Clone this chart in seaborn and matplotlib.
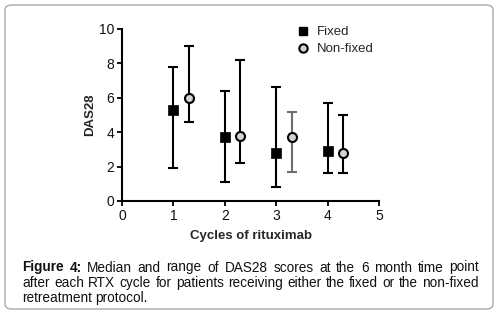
import numpy as np
import pandas as pd
import matplotlib
matplotlib.use("Agg")
import matplotlib.pyplot as plt
import seaborn as sns
from matplotlib.patches import FancyBboxPatch
from matplotlib.lines import Line2D

# ---- data ----
cycles = [1, 2, 3, 4]
fixed_median = [5.3, 3.7, 2.8, 2.9]
fixed_low = [1.9, 1.1, 0.8, 1.6]
fixed_high = [7.8, 6.4, 6.6, 5.7]
nonfixed_median = [6.0, 3.8, 3.7, 2.8]
nonfixed_low = [4.6, 2.2, 1.7, 1.6]
nonfixed_high = [9.0, 8.2, 5.2, 5.0]
groups = ["Fixed", "Non-fixed"]
xticks = [0, 1, 2, 3, 4, 5]
yticks = [0, 2, 4, 6, 8, 10]
caption_lines = [
    ["Figure", "4:", "Median", "and", "range", "of", "DAS28", "scores", "at", "the", "6", "month", "time", "point"],
    ["after", "each", "RTX", "cycle", "for", "patients", "receiving", "either", "the", "fixed", "or", "the", "non-fixed"],
    ["retreatment", "protocol."],
]

sns.set_style("ticks")
plt.rcParams['font.family'] = ['Liberation Sans', 'DejaVu Sans']

W, H = 498, 313
fig = plt.figure(figsize=(W / 100, H / 100), dpi=100)

# outer rounded frame
frame = FancyBboxPatch((5 / W, 4 / H), 488 / W, 304 / H,
                       boxstyle="round,pad=0,rounding_size=0.015",
                       transform=fig.transFigure, facecolor="none",
                       edgecolor="#a8a8a8", lw=1.0, zorder=-1)
fig.patches.append(frame)

ax = fig.add_axes([122 / W, (H - 201) / H, 257 / W, 172 / H])
ax.set_facecolor("none")

offset = 0.3
df_f = pd.DataFrame({"cycle": cycles, "DAS28": fixed_median, "group": groups[0]})
df_n = pd.DataFrame({"cycle": [c + offset for c in cycles], "DAS28": nonfixed_median, "group": groups[1]})

# ranges
ax.errorbar(df_f["cycle"], df_f["DAS28"],
            yerr=[np.array(fixed_median) - np.array(fixed_low), np.array(fixed_high) - np.array(fixed_median)],
            fmt="none", ecolor="black", elinewidth=1.5, capsize=3.8, capthick=1.5, zorder=2)
ecols = ["black", "black", "#6e6e6e", "black"]
for i in range(len(cycles)):
    ax.errorbar([df_n["cycle"][i]], [nonfixed_median[i]],
                yerr=[[nonfixed_median[i] - nonfixed_low[i]], [nonfixed_high[i] - nonfixed_median[i]]],
                fmt="none", ecolor=ecols[i], elinewidth=1.5, capsize=3.8, capthick=1.5, zorder=2)

sns.scatterplot(data=df_f, x="cycle", y="DAS28", ax=ax, marker="s", s=44,
                color="black", edgecolor="black", linewidth=0.5, zorder=3, legend=False, clip_on=False)
sns.scatterplot(data=df_n, x="cycle", y="DAS28", ax=ax, marker="o", s=42,
                color="#d4d4d4", edgecolor="black", linewidth=1.5, zorder=3, legend=False, clip_on=False)

ax.set_xlim(0, 5)
ax.set_ylim(0, 10)
ax.set_xticks(xticks)
ax.set_yticks(yticks)
ax.tick_params(axis="both", labelsize=10, width=1.3, length=3.5, pad=2, color="black", labelcolor="#111111")
for s in ["left", "bottom"]:
    ax.spines[s].set_linewidth(1.5)
    ax.spines[s].set_color("black")
sns.despine(ax=ax)
ax.set_xlabel("Cycles of rituximab", fontsize=9.5, fontweight="bold", labelpad=5)
ax.set_ylabel("DAS28", fontsize=9.5, fontweight="bold", labelpad=2)

handles = [Line2D([], [], marker="s", ls="none", color="black", markersize=5.5),
           Line2D([], [], marker="o", ls="none", markerfacecolor="#d4d4d4",
                  markeredgecolor="black", markeredgewidth=1.5, markersize=6.0)]
ax.legend(handles, groups, loc="upper right", bbox_to_anchor=(1.025, 1.085), frameon=False,
          fontsize=9.5, handlelength=1.0, handletextpad=0.5, labelspacing=0.35)

# ---- justified caption ----
fig.canvas.draw()
renderer = fig.canvas.get_renderer()
left, right = 22, 479
line_y = [271.5, 287, 302]
fs = 9.8
space_w = None
for li, words in enumerate(caption_lines):
    texts = []
    widths = []
    for wi, w in enumerate(words):
        bold = (li == 0 and wi < 2)
        t = fig.text(0, 0, w, fontsize=fs, fontweight="bold" if bold else "normal",
                     color="#111111", va="baseline", ha="left")
        bb = t.get_window_extent(renderer)
        texts.append(t)
        widths.append(bb.width)
    if space_w is None:
        tsp = fig.text(0, 0, "a a", fontsize=fs)
        ta = fig.text(0, 0, "aa", fontsize=fs)
        space_w = tsp.get_window_extent(renderer).width - ta.get_window_extent(renderer).width
        tsp.remove(); ta.remove()
    if li < len(caption_lines) - 1:
        gap = (right - left - sum(widths)) / (len(words) - 1)
    else:
        gap = space_w
    x = left
    for t, wdt in zip(texts, widths):
        t.set_position((x / W, (H - line_y[li]) / H))
        x += wdt + gap

fig.savefig("out.png", dpi=100)
